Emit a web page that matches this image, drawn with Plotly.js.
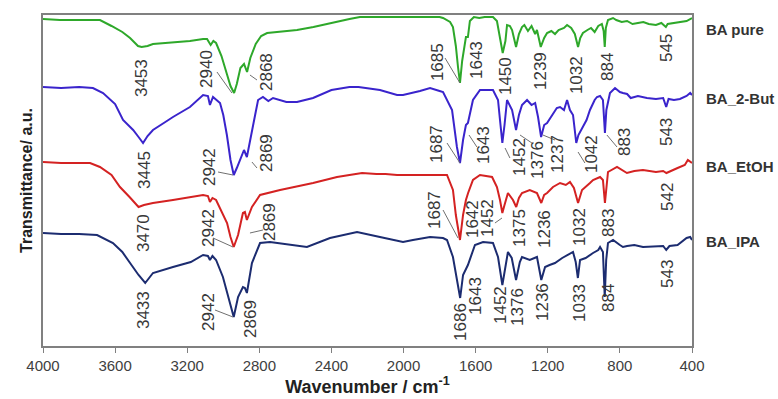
<!DOCTYPE html>
<html>
<head>
<meta charset="utf-8">
<script src="https://cdn.plot.ly/plotly-3.0.1.min.js"></script>
<style>html,body{margin:0;padding:0;background:#fff;}#chart{width:778px;height:399px;}</style>
</head>
<body>
<div id="chart"></div>
<script>
// ---------- DATA ----------
const seriesNames = ["BA pure", "BA_2-But", "BA_EtOH", "BA_IPA"];

const wnPure = [4000,3906,3800,3740,3684,3620,3560,3517,3473,3453,3420,3390,3300,3185,3112,3090,3070,3055,3040,3010,2980,2960,2940,2925,2905,2885,2868,2850,2820,2790,2757,2700,2591,2500,2408,2300,2242,2100,2000,1900,1800,1781,1742,1726,1710,1698,1687,1675,1665,1654,1643,1632,1610,1580,1550,1504,1482,1465,1450,1435,1426,1410,1398,1376,1360,1343,1330,1310,1290,1270,1260,1250,1239,1220,1204,1180,1160,1140,1110,1093,1070,1050,1032,1020,1005,980,960,940,920,900,890,884,878,866,838,820,790,760,730,700,670,640,600,570,555,545,535,500,467,430,400];
const tPure = [327,326,326,326,326,320,314,308,300,299,300,302,303,305,307,307,301,305,303,290,272,260,253,262,278,282,274,288,302,310,313,314,316,319,323,327,329,329,329,329,329,328,324,319,300,279,263,285,299,309,309,325,329,328,329,329,325,310,293,305,321,320,316,299,312,319,321,315,320,312,316,308,299,308,313,315,312,316,318,321,318,312,299,308,313,316,318,314,320,322,315,299,318,326,328,326,324,325,322,323,324,322,321,323,320,319,322,323,324,325,328];

const wn2But = [4000,3900,3800,3723,3667,3600,3556,3500,3470,3445,3420,3390,3330,3279,3185,3112,3085,3074,3057,3040,3018,3000,2980,2960,2942,2925,2900,2885,2869,2850,2835,2807,2780,2750,2724,2690,2650,2591,2540,2502,2400,2300,2250,2131,2036,2003,1909,1853,1800,1781,1731,1704,1687,1670,1654,1643,1615,1576,1504,1476,1465,1452,1440,1426,1398,1376,1360,1343,1315,1290,1270,1254,1237,1220,1204,1171,1150,1132,1110,1093,1077,1060,1042,1030,1005,985,966,940,927,910,894,883,875,855,827,800,783,760,740,700,650,600,560,543,530,500,467,430,410,400];
const t2But = [259,258,259,258,253,242,226,216,209,203,210,216,223,229,239,251,250,241,249,246,243,231,211,186,171,178,189,196,189,206,219,246,249,245,248,246,244,244,246,248,256,259,259,256,251,251,255,258,255,254,236,199,183,206,221,223,246,256,256,246,226,203,221,246,236,216,231,241,246,241,243,229,209,221,223,233,238,239,236,246,236,231,203,211,219,226,236,246,249,250,246,213,236,253,258,254,253,252,248,250,248,247,248,239,247,246,247,250,253,251];

const wnEtOH = [4000,3900,3739,3684,3620,3573,3520,3479,3470,3440,3390,3279,3112,3085,3074,3060,3040,2979,2960,2942,2918,2891,2880,2869,2841,2796,2685,2502,2369,2300,2230,2150,2100,2036,1900,1781,1759,1726,1710,1687,1670,1654,1642,1615,1576,1509,1482,1465,1452,1440,1421,1393,1375,1360,1343,1300,1260,1236,1220,1204,1171,1132,1100,1077,1055,1032,1010,966,949,910,894,883,872,866,816,790,761,720,672,600,560,542,520,480,440,423,400];
const tEtOH = [184,183,183,179,171,159,149,141,139,141,143,146,151,150,144,148,146,123,109,99,111,133,134,126,139,151,156,163,169,171,173,172,172,171,171,171,171,156,131,106,131,146,153,166,171,169,159,146,133,141,153,146,139,148,153,156,153,143,151,153,159,163,161,164,158,143,156,163,166,169,166,143,166,174,179,176,173,175,176,174,175,173,175,178,181,186,183];

const wnIPA = [4000,3900,3800,3700,3612,3560,3517,3470,3433,3400,3390,3279,3180,3112,3085,3074,3060,3040,3002,2975,2942,2918,2891,2880,2869,2841,2796,2741,2700,2647,2600,2536,2408,2258,2131,2003,1948,1853,1781,1759,1726,1705,1686,1670,1654,1643,1604,1559,1504,1476,1452,1430,1421,1400,1376,1355,1343,1300,1260,1236,1215,1190,1160,1120,1093,1060,1045,1033,1021,990,949,920,910,894,884,876,866,838,800,783,760,720,672,600,560,543,525,480,430,410,400];
const tIPA = [113,112,112,111,103,94,83,71,63,70,73,79,84,91,90,86,90,86,69,51,29,49,59,58,53,83,103,104,103,101,100,99,108,114,109,104,106,109,108,106,89,66,48,71,78,81,101,104,103,89,61,86,94,88,66,84,89,86,89,66,79,81,83,88,91,94,84,68,86,88,93,96,99,94,49,86,103,106,101,99,100,101,99,100,100,96,100,101,108,109,106];

// peak labels (text) per series
const labelsPure = ["3453","2940","2868","1685","1643","1450","1239","1032","884","545"];
const labels2But = ["3445","2942","2869","1687","1643","1452","1376","1237","1042","883","543"];
const labelsEtOH = ["3470","2942","2869","1687","1642","1452","1375","1236","1032","883","542"];
const labelsIPA  = ["3433","2942","2869","1686","1643","1452","1376","1236","1033","884","543"];

// ---------- LAYOUT HELPERS (positions of labels: [x(cm-1), y(a.u.)]) ----------
const posPure = [[3456,268],[3096,277],[2763,274],[1814,284],[1598,286],[1437,270],[1243,275],[1043,271],[872,279],[544,298]];
const pos2But = [[3440,176],[3079,179],[2763,193],[1820,202],[1559,201],[1360,189],[1260,186],[1149,192],[960,192],[777,204],[544,214]];
const posEtOH = [[3445,113],[3085,118],[2746,124],[1831,136],[1620,127],[1537,128],[1360,118],[1221,117],[1027,119],[866,123],[539,149]];
const posIPA  = [[3445,36],[3085,34],[2852,27],[1687,24],[1604,50],[1465,41],[1371,39],[1232,44],[1027,43],[866,48],[539,72]];

// leader lines [x0,y0,x1,y1]
const leaders = [
  [3035,274,2952,253],[2852,271,2813,266],[1770,288,1687,263],
  [3029,174,2946,171],[2841,184,2813,178],[1759,203,1687,183],[1637,211,1593,199],
  [1437,198,1410,188],[1354,211,1288,203],[1227,211,1160,206],[1032,194,994,183],[872,211,816,199],
  [3057,108,2946,99],[2852,113,2780,116],[1781,136,1698,108],[1493,123,1454,128],
  [3046,36,2946,29]
];

const colors = ["#2ea82a", "#3a24cc", "#d42222", "#1c2c70"];
const nameY = [30, 98, 167, 242];

const xs = [wnPure, wn2But, wnEtOH, wnIPA];
const ys = [tPure, t2But, tEtOH, tIPA];
const labs = [labelsPure, labels2But, labelsEtOH, labelsIPA];
const poss = [posPure, pos2But, posEtOH, posIPA];

const traces = xs.map((x, i) => ({
  x: x, y: ys[i], type: "scatter", mode: "lines", name: seriesNames[i],
  line: {color: colors[i], width: 2}, showlegend: false, hoverinfo: "skip"
}));

const annotations = [];
labs.forEach((arr, i) => {
  arr.forEach((t, j) => {
    annotations.push({
      x: poss[i][j][0], y: poss[i][j][1], xref: "x", yref: "y",
      text: t, showarrow: false, textangle: -90,
      xanchor: "center", yanchor: "middle",
      font: {family: "Liberation Sans, Arial, sans-serif", size: 17, color: "#383838"}
    });
  });
});
seriesNames.forEach((n, i) => {
  annotations.push({
    x: 1, xref: "paper", xshift: 12, y: 1 - (nameY[i] - 15) / 331, yref: "paper",
    text: "<b>" + n + "</b>", showarrow: false, xanchor: "left", yanchor: "middle",
    font: {family: "Liberation Sans, Arial, sans-serif", size: 15, color: "#333333"}
  });
});

const shapes = leaders.map(l => ({
  type: "line", xref: "x", yref: "y", x0: l[0], y0: l[1], x1: l[2], y1: l[3],
  line: {color: "#707070", width: 1}
}));

const layout = {
  width: 778, height: 399,
  margin: {l: 43, r: 86, t: 15, b: 53},
  paper_bgcolor: "#ffffff", plot_bgcolor: "#ffffff",
  showlegend: false,
  xaxis: {
    range: [4000, 400], tickvals: [4000,3600,3200,2800,2400,2000,1600,1200,800,400],
    ticktext: ["4000","3600","3200","2800","2400","2000","1600","1200","800","400"],
    ticks: "outside", ticklen: 5, tickwidth: 1, tickcolor: "#808080",
    showline: true, linecolor: "#808080", linewidth: 2, mirror: true,
    showgrid: false, zeroline: false,
    tickfont: {family: "Liberation Sans, Arial, sans-serif", size: 15, color: "#404040"},
    title: {text: "<b>Wavenumber / cm<sup>-1</sup></b>", standoff: 6,
      font: {family: "Liberation Sans, Arial, sans-serif", size: 18, color: "#222222"}}
  },
  yaxis: {
    range: [0, 331], showticklabels: false, ticks: "",
    showline: true, linecolor: "#808080", linewidth: 2, mirror: true,
    showgrid: false, zeroline: false,
    title: {text: "<b>Transmittance/ a.u.</b>", standoff: 4,
      font: {family: "Liberation Sans, Arial, sans-serif", size: 16, color: "#222222"}}
  },
  annotations: annotations,
  shapes: shapes
};

Plotly.newPlot("chart", traces, layout, {staticPlot: true, displayModeBar: false});
</script>
</body>
</html>
